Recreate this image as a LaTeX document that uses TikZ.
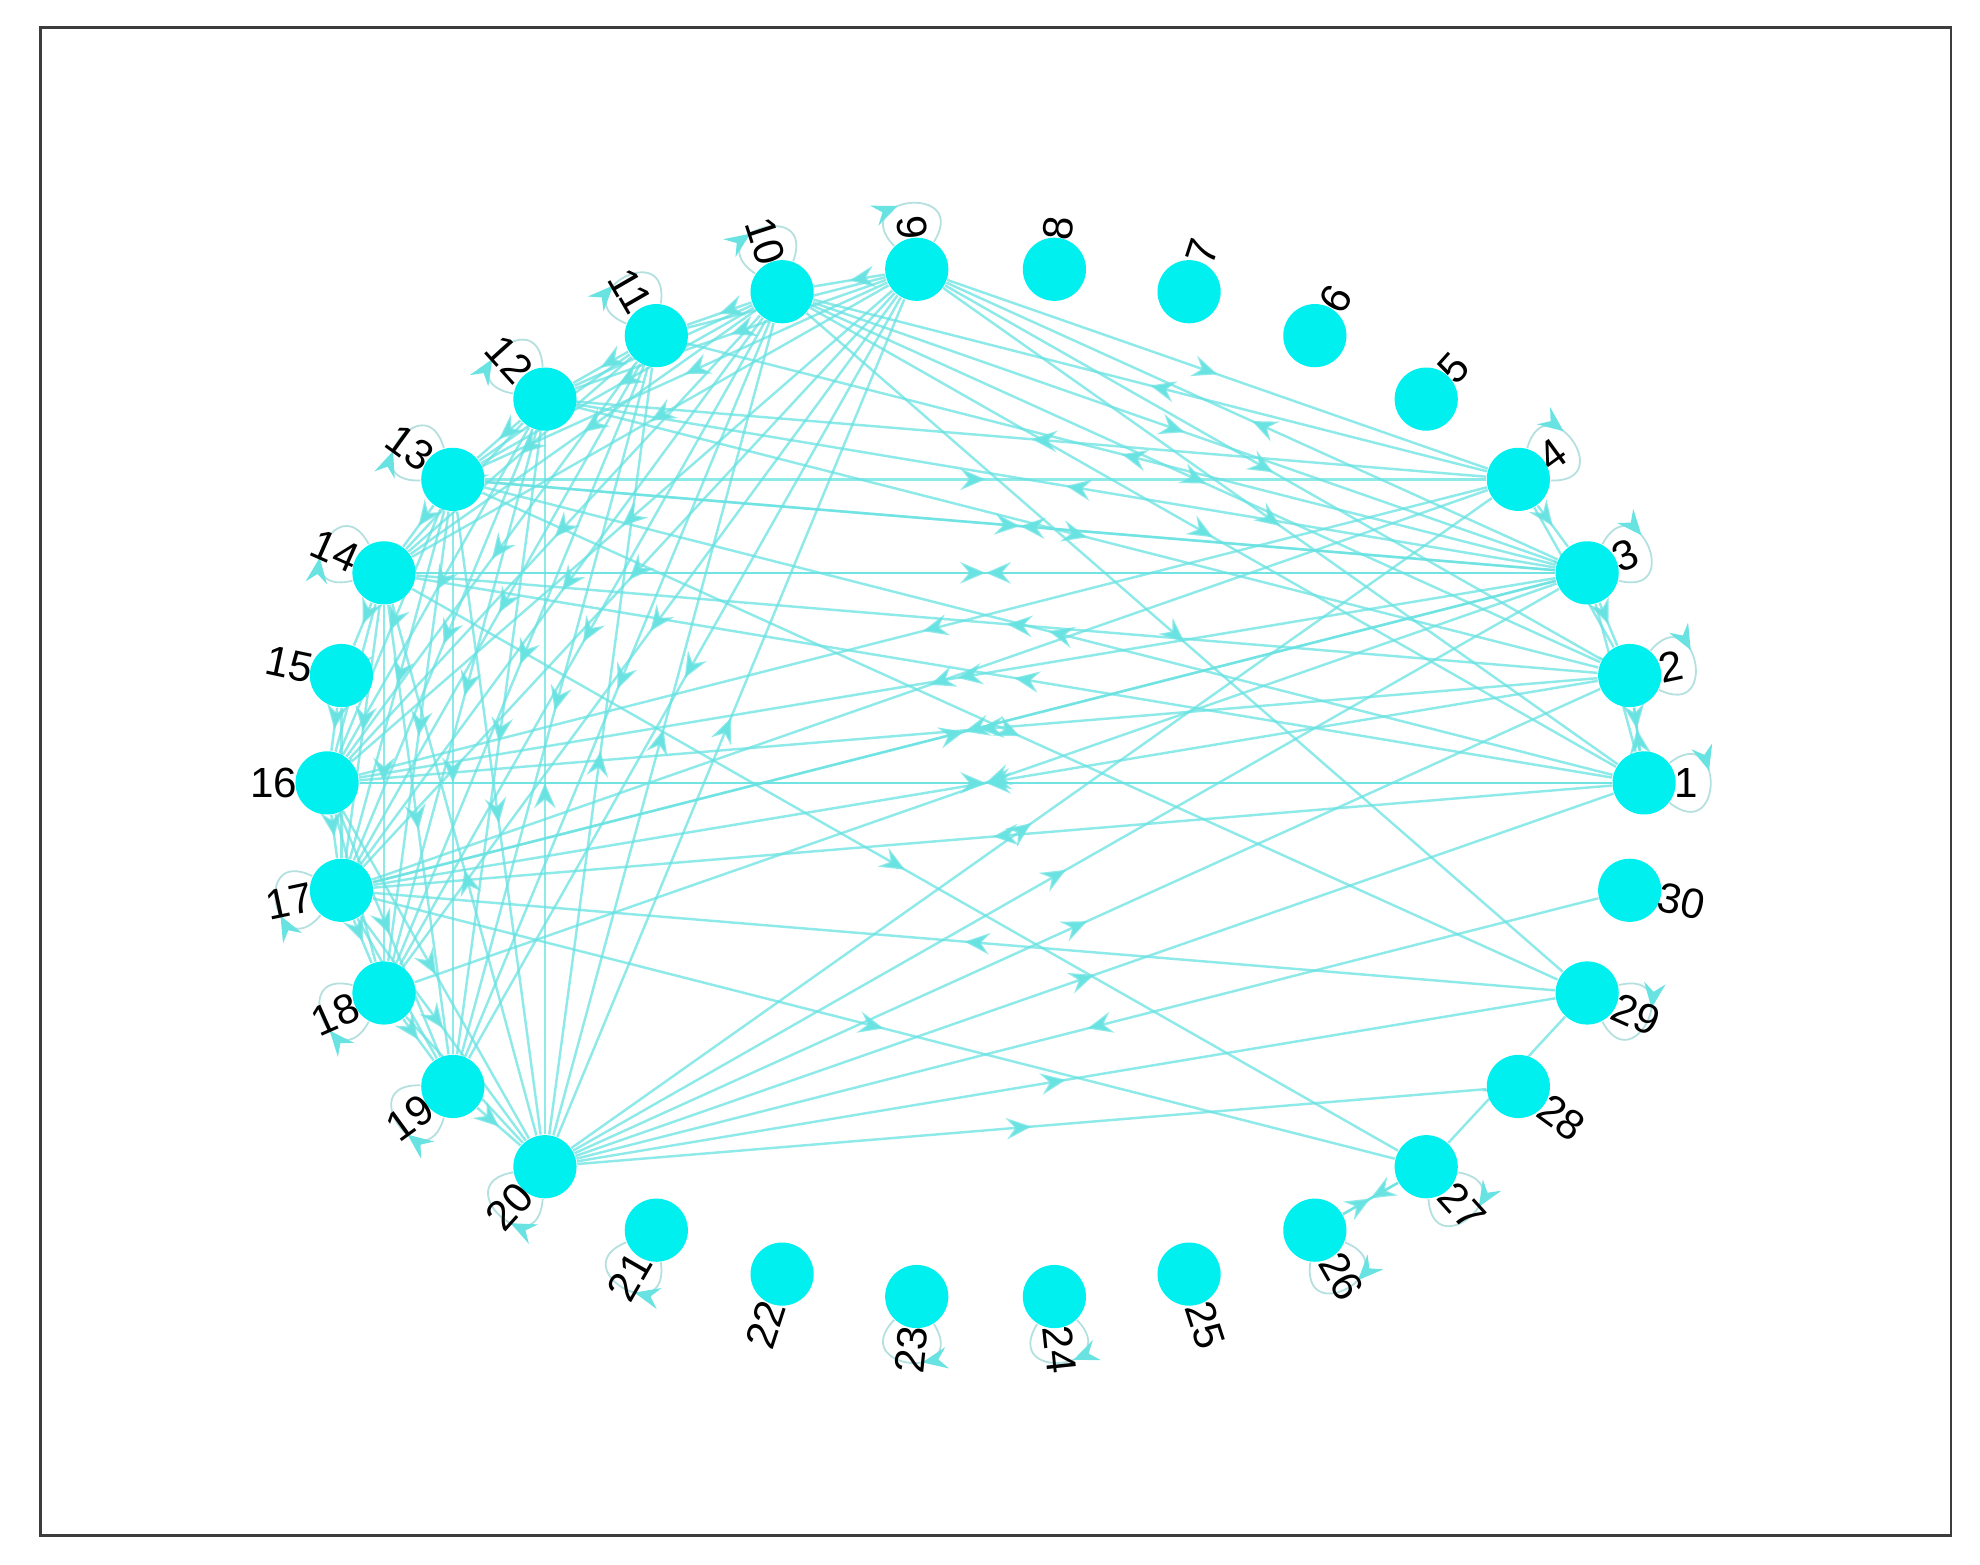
\documentclass[tikz,border=0pt]{standalone}
\usepackage{fontspec}
\setmainfont{Liberation Sans}
\usetikzlibrary{arrows.meta,decorations.markings}
\definecolor{nodecol}{RGB}{0,240,240}
\definecolor{edgecol}{RGB}{105,226,226}
\definecolor{loopcol}{RGB}{180,224,224}
\definecolor{framecol}{RGB}{60,60,60}
\pgfdeclarelayer{bg}
\pgfsetlayers{bg,main}
\tikzset{
  vert/.style={circle, fill=nodecol, draw=none, inner sep=0pt, minimum size=0.5cm},
  lab/.style={inner sep=0pt, font=\fontsize{9.5}{11}\selectfont, text=black},
  edge/.style={draw=edgecol, line width=0.55pt, draw opacity=0.75, postaction={decorate},
    decoration={markings, mark=at position 0.5 with {\arrow{Stealth[length=0.2cm,width=0.17cm,inset=0.07cm,color=edgecol]}}}},
  selfloop/.style={draw=loopcol, line width=0.4pt, postaction={decorate},
    decoration={markings, mark=at position 0.4 with {\arrow{Stealth[length=0.2cm,width=0.17cm,inset=0.07cm,color=edgecol]}}}},
}
\begin{document}
\begin{tikzpicture}[x=0.01cm,y=0.01cm]
\useasboundingbox (0,0) rectangle (1568,-1239);
% nodes
\foreach \i in {1,...,30}{
  \pgfmathsetmacro\a{(\i-1)*12}
  \node[vert] (n\i) at ({780.5+521.5*cos(\a)},{-620+409*sin(\a)}) {};
}
% labels
\foreach \i in {1,...,30}{
  \pgfmathsetmacro\a{(\i-1)*12}
  \pgfmathtruncatemacro\side{(\a>90 && \a<270) ? 1 : 0}
  \ifnum\side=1
    \pgfmathsetmacro\r{\a-180}
    \node[lab, anchor=east, rotate=\r] (l\i) at ([shift={(\a:23)}]n\i.center) {\i};
  \else
    \node[lab, anchor=west, rotate=\a] (l\i) at ([shift={(\a:23)}]n\i.center) {\i};
  \fi
}
\begin{pgfonlayer}{bg}
\fill[white] (0,0) rectangle (1568,-1239);
\draw[framecol, line width=0.6pt] (32,-22) rectangle (1545,-1216);
% edges
\foreach \s/\t in {
  3/9, 10/3, 3/11, 3/12, 3/13, 13/3, 3/14, 14/3, 3/16, 3/17, 17/3, 3/18, 20/3, 3/2, 4/3, 3/1,
  9/4, 13/4, 4/10, 4/12, 4/16, 4/2, 20/4, 4/17,
  16/1, 1/16, 10/1, 9/1, 1/13, 1/17, 20/1, 2/1, 1/2, 1/14,
  2/14, 2/16, 12/2, 2/17, 20/2, 10/2, 9/2,
  10/29, 13/29, 29/17, 20/29, 27/29, 14/27, 17/27, 27/26, 26/27, 30/20, 20/28,
  9/10, 10/11, 11/12, 12/13, 13/14, 14/15, 15/16, 16/17, 17/18, 18/19, 19/20,
  9/11, 9/12, 9/13, 9/14, 9/16, 9/17, 9/18, 9/19, 20/9,
  10/12, 10/13, 10/14, 10/16, 10/17, 10/18, 10/19, 20/10,
  11/13, 11/14, 11/16, 11/17, 11/18, 11/19, 20/11,
  12/14, 12/16, 12/17, 12/18, 12/19, 20/12,
  13/16, 13/17, 13/18, 13/19, 13/20,
  14/16, 14/17, 14/18, 14/19, 20/14,
  15/17, 16/18, 16/19, 16/20, 17/19, 18/20, 17/20}
  \draw[edge] (n\s) -- (n\t);
% self loops
\foreach \i in {1,2,3,4,9,10,11,12,13,14,17,18,19,20,21,23,24,26,27,29}{
  \pgfmathsetmacro\ao{(\i-1)*12+38}
  \pgfmathsetmacro\ai{(\i-1)*12-38}
  \draw[selfloop] (n\i) to[out=\ao, in=\ai, distance=0.55cm] (n\i);
}
\end{pgfonlayer}
\end{tikzpicture}
\end{document}
